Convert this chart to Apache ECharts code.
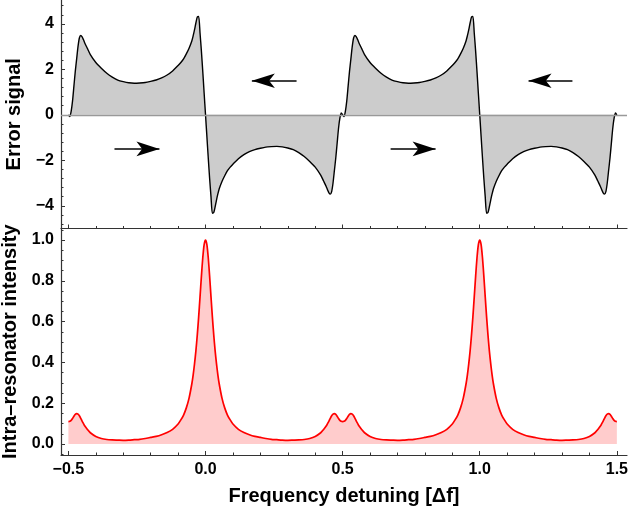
<!DOCTYPE html>
<html><head><meta charset="utf-8">
<script src="https://cdn.jsdelivr.net/npm/echarts@6/dist/echarts.min.js"></script>
<style>html,body{margin:0;padding:0;background:#fff}#c{width:631px;height:517px}</style>
</head><body><div id="c"></div>
<script>
// ---------- data ----------
const detuning = [
-0.5,-0.495,-0.49,-0.485,-0.48,-0.475,-0.47,-0.465,-0.46,-0.455,-0.45,-0.445,-0.44,-0.43,-0.42,-0.40,-0.38,-0.36,-0.34,-0.32,-0.30,-0.28,-0.26,-0.24,-0.22,-0.20,-0.18,-0.16,-0.14,-0.12,-0.10,-0.09,-0.08,-0.07,-0.06,-0.05,-0.045,-0.04,-0.035,-0.03,-0.025,-0.02,-0.015,-0.01,-0.005,
0,0.005,0.01,0.015,0.02,0.025,0.03,0.035,0.04,0.045,0.05,0.06,0.07,0.08,0.09,0.10,0.12,0.14,0.16,0.18,0.20,0.22,0.24,0.26,0.28,0.30,0.32,0.34,0.36,0.38,0.40,0.42,0.43,0.44,0.445,0.45,0.455,0.46,0.465,0.47,0.475,0.48,0.485,0.49,0.495,
0.5,0.505,0.51,0.515,0.52,0.525,0.53,0.535,0.54,0.545,0.55,0.555,0.56,0.57,0.58,0.60,0.62,0.64,0.66,0.68,0.70,0.72,0.74,0.76,0.78,0.80,0.82,0.84,0.86,0.88,0.90,0.91,0.92,0.93,0.94,0.95,0.955,0.96,0.965,0.97,0.975,0.98,0.985,0.99,0.995,
1,1.005,1.01,1.015,1.02,1.025,1.03,1.035,1.04,1.045,1.05,1.06,1.07,1.08,1.09,1.10,1.12,1.14,1.16,1.18,1.20,1.22,1.24,1.26,1.28,1.30,1.32,1.34,1.36,1.38,1.40,1.42,1.43,1.44,1.445,1.45,1.455,1.46,1.465,1.47,1.475,1.48,1.485,1.49,1.495,1.5
];
const errorSignal = [
0,-0.08,0.15,0.6,1.25,1.9,2.45,3.0,3.38,3.49,3.43,3.3,3.15,2.9,2.65,2.3,2.05,1.83,1.66,1.53,1.46,1.41,1.39,1.40,1.42,1.47,1.53,1.62,1.75,1.93,2.17,2.3,2.46,2.68,2.93,3.25,3.48,3.75,4.05,4.3,4.33,3.6,2.8,1.9,0.95,
0,-0.95,-1.9,-2.8,-3.6,-4.33,-4.3,-4.05,-3.75,-3.48,-3.25,-2.93,-2.68,-2.46,-2.3,-2.17,-1.93,-1.75,-1.62,-1.53,-1.47,-1.42,-1.40,-1.39,-1.41,-1.46,-1.53,-1.66,-1.83,-2.05,-2.3,-2.65,-2.9,-3.15,-3.3,-3.43,-3.49,-3.38,-3.0,-2.45,-1.9,-1.25,-0.6,-0.15,0.08,
0,-0.08,0.15,0.6,1.25,1.9,2.45,3.0,3.38,3.49,3.43,3.3,3.15,2.9,2.65,2.3,2.05,1.83,1.66,1.53,1.46,1.41,1.39,1.40,1.42,1.47,1.53,1.62,1.75,1.93,2.17,2.3,2.46,2.68,2.93,3.25,3.48,3.75,4.05,4.3,4.33,3.6,2.8,1.9,0.95,
0,-0.95,-1.9,-2.8,-3.6,-4.33,-4.3,-4.05,-3.75,-3.48,-3.25,-2.93,-2.68,-2.46,-2.3,-2.17,-1.93,-1.75,-1.62,-1.53,-1.47,-1.42,-1.40,-1.39,-1.41,-1.46,-1.53,-1.66,-1.83,-2.05,-2.3,-2.65,-2.9,-3.15,-3.3,-3.43,-3.49,-3.38,-3.0,-2.45,-1.9,-1.25,-0.6,-0.15,0.08,0
];
const intensity = [
0.110,0.111,0.116,0.125,0.136,0.145,0.149,0.146,0.138,0.126,0.112,0.100,0.088,0.070,0.055,0.037,0.027,0.022,0.020,0.019,0.018,0.019,0.021,0.023,0.027,0.032,0.037,0.045,0.056,0.072,0.098,0.118,0.142,0.177,0.225,0.294,0.339,0.394,0.458,0.535,0.623,0.721,0.822,0.913,0.978,
1.000,0.978,0.913,0.822,0.721,0.623,0.535,0.458,0.394,0.339,0.294,0.225,0.177,0.142,0.118,0.098,0.072,0.056,0.045,0.037,0.032,0.027,0.023,0.021,0.019,0.018,0.019,0.020,0.022,0.027,0.037,0.055,0.070,0.088,0.100,0.112,0.126,0.138,0.146,0.149,0.145,0.136,0.125,0.116,0.111,
0.110,0.111,0.116,0.125,0.136,0.145,0.149,0.146,0.138,0.126,0.112,0.100,0.088,0.070,0.055,0.037,0.027,0.022,0.020,0.019,0.018,0.019,0.021,0.023,0.027,0.032,0.037,0.045,0.056,0.072,0.098,0.118,0.142,0.177,0.225,0.294,0.339,0.394,0.458,0.535,0.623,0.721,0.822,0.913,0.978,
1.000,0.978,0.913,0.822,0.721,0.623,0.535,0.458,0.394,0.339,0.294,0.225,0.177,0.142,0.118,0.098,0.072,0.056,0.045,0.037,0.032,0.027,0.023,0.021,0.019,0.018,0.019,0.020,0.022,0.027,0.037,0.055,0.070,0.088,0.100,0.112,0.126,0.138,0.146,0.149,0.145,0.136,0.125,0.116,0.111,0.110
];
const xTickValues = [-0.5, 0, 0.5, 1, 1.5];
const xMinorTickValues = [-0.4,-0.3,-0.2,-0.1,0.1,0.2,0.3,0.4,0.6,0.7,0.8,0.9,1.1,1.2,1.3,1.4];
const errTickValues = [-4, -2, 0, 2, 4];
const errMinorTickValues = [-4.8,-4.4,-3.6,-3.2,-2.8,-2.4,-1.6,-1.2,-0.8,-0.4,0.4,0.8,1.2,1.6,2.4,2.8,3.2,3.6,4.4,4.8];
const intTickValues = [0, 0.2, 0.4, 0.6, 0.8, 1.0];
const intMinorTickValues = [-0.05,0.05,0.1,0.15,0.25,0.3,0.35,0.45,0.5,0.55,0.65,0.7,0.75,0.85,0.9,0.95,1.05];
// direction arrows: [start x, y, tip x]
const arrows = [
  [-0.332, -1.5, -0.168],
  [0.675, -1.5, 0.839],
  [0.332, 1.5, 0.169],
  [1.338, 1.5, 1.178]
];
const xTitle = 'Frequency detuning [Δf]';
const errTitle = 'Error signal';
const intTitle = 'Intra–resonator intensity';

// ---------- chart ----------
const X_MIN = -0.527, X_MAX = 1.537;
const GRID_W = 566;
const FONT = '"Liberation Sans", Arial, sans-serif';
const axisColor = '#333';
const fmt = d => v => (v < 0 ? '−' : '') + Math.abs(v).toFixed(d);
const lblStyle = {fontFamily: FONT, fontSize: 16, fontWeight: 'bold', color: '#000'};
const nameStyle = {fontFamily: FONT, fontSize: 20, fontWeight: 'bold', color: '#000'};

function xAx(grid, major, withLabels) {
  return {
    type: 'value', gridIndex: grid, min: X_MIN, max: X_MAX, position: 'bottom',
    axisLine: {show: major, onZero: false, lineStyle: {color: axisColor, width: 1.2}},
    axisTick: {show: true, inside: true, length: major ? 4 : 2.5,
               customValues: major ? xTickValues : xMinorTickValues,
               lineStyle: {color: axisColor, width: 1}},
    axisLabel: withLabels ? Object.assign({show: true, customValues: xTickValues, margin: 7, formatter: fmt(1)}, lblStyle) : {show: false},
    splitLine: {show: false},
    name: withLabels ? xTitle : '', nameLocation: 'middle', nameGap: 31, nameTextStyle: nameStyle
  };
}
function yAx(grid, min, max, majorVals, minorVals, major, digits, title) {
  return {
    type: 'value', gridIndex: grid, min: min, max: max, position: 'left',
    axisLine: {show: major, onZero: false, lineStyle: {color: axisColor, width: 1.2}},
    axisTick: {show: true, inside: true, length: major ? 4 : 2.5,
               customValues: major ? majorVals : minorVals,
               lineStyle: {color: axisColor, width: 1}},
    axisLabel: major ? Object.assign({show: true, customValues: majorVals, margin: 7, formatter: fmt(digits)}, lblStyle) : {show: false},
    splitLine: {show: false},
    name: major ? title : '', nameLocation: 'middle', nameGap: 34, nameTextStyle: nameStyle
  };
}

// the 'arrow' symbol of a mark line puts its tip on the end point
const arrowLines = arrows.map(a => [
  {coord: [a[0], a[1]], symbol: 'none', lineStyle: {color: '#000', width: 1.6, type: 'solid'}},
  {coord: [a[2], a[1]], symbol: 'arrow', symbolSize: [11, 23]}
]);

const errData = detuning.map((x, i) => [x, errorSignal[i]]);
const intData = detuning.map((x, i) => [x, intensity[i]]);

const chart = echarts.init(document.getElementById('c'), null, {renderer: 'canvas'});
chart.setOption({
  animation: false,
  backgroundColor: '#fff',
  grid: [
    {left: 61, top: 0, width: GRID_W, height: 228.5, containLabel: false, outerBoundsMode: 'none'},
    {left: 61, top: 228.5, width: GRID_W, height: 226.5, containLabel: false, outerBoundsMode: 'none'}
  ],
  xAxis: [xAx(0, true, false), xAx(0, false, false), xAx(1, true, true), xAx(1, false, false)],
  yAxis: [
    yAx(0, -5, 5.05, errTickValues, errMinorTickValues, true, 0, errTitle),
    yAx(0, -5, 5.05, errTickValues, errMinorTickValues, false, 0, ''),
    yAx(1, -0.054, 1.0565, intTickValues, intMinorTickValues, true, 1, intTitle),
    yAx(1, -0.054, 1.0565, intTickValues, intMinorTickValues, false, 1, '')
  ],
  series: [
    {
      type: 'line', xAxisIndex: 0, yAxisIndex: 0, data: errData,
      showSymbol: false, smooth: 0.25, clip: true,
      lineStyle: {color: '#000', width: 1.4},
      areaStyle: {color: '#cccccc', opacity: 1, origin: 0},
      markLine: {
        silent: true, animation: false, symbol: ['none', 'none'],
        label: {show: false},
        data: [{yAxis: 0, lineStyle: {color: '#999', width: 1.3, type: 'solid'}}].concat(arrowLines)
      },
      z: 3
    },
    {
      type: 'line', xAxisIndex: 2, yAxisIndex: 2, data: intData,
      showSymbol: false, smooth: 0.25,
      lineStyle: {color: '#ff0000', width: 1.7},
      areaStyle: {color: '#ffcccc', opacity: 1, origin: 0},
      z: 3
    }
  ]
});
</script>
</body></html>
